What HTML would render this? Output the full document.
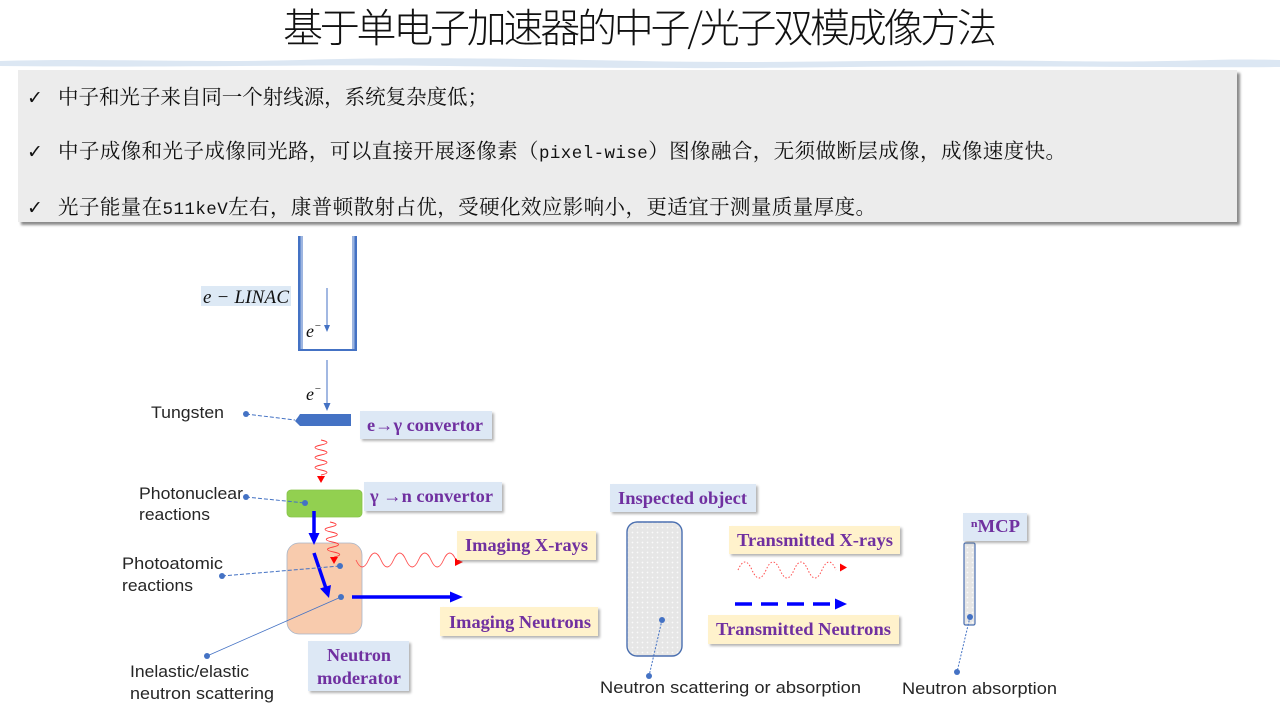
<!DOCTYPE html>
<html><head><meta charset="utf-8"><style>
html,body{margin:0;padding:0;background:#fff;width:1280px;height:720px;overflow:hidden}
svg{display:block}
.bul{font-family:"Liberation Mono","Noto Serif CJK SC","Noto Serif CJK JP","Noto Serif CJK TC","Liberation Serif",serif;font-size:20.5px;fill:#111}
.lab{font-family:"Liberation Serif","DejaVu Serif",serif;font-weight:bold;font-size:18px;fill:#7030a0}
.san{font-family:"Liberation Sans",sans-serif;font-size:16.5px;fill:#262626}
</style></head><body>
<svg width="1280" height="720" viewBox="0 0 1280 720" xmlns="http://www.w3.org/2000/svg">
<defs>
<pattern id="dots" width="5" height="5" patternUnits="userSpaceOnUse"><rect width="5" height="5" fill="#e6e6e6"/><circle cx="2.5" cy="2.5" r="0.9" fill="#fafafa"/></pattern>
<filter id="sh" x="-10%" y="-10%" width="130%" height="140%"><feGaussianBlur stdDeviation="1.3"/></filter>
</defs>

<!-- Title -->
<text x="283" y="42" style="font-family:'Noto Sans CJK SC',sans-serif;font-weight:300;font-size:40px" fill="#111" textLength="714" lengthAdjust="spacing">基于单电子加速器的中子/光子双模成像方法</text>

<!-- wavy band -->
<path d="M0 61 C100 58,200 63,300 60 S500 58,640 61 S900 59,1050 61 S1200 58,1280 60 L1280 67 C1150 68,1000 65,850 67 S600 68,450 66 S200 68,0 66 Z" fill="#dce7f3"/>

<!-- bullet box -->
<rect x="21" y="73" width="1219" height="152" fill="#8a8a8a" filter="url(#sh)"/>
<rect x="18" y="70" width="1219" height="152" fill="#ececec"/>
<g style="font-family:'DejaVu Sans',sans-serif;font-size:19px" fill="#111">
<text x="27" y="104">✓</text><text x="27" y="158">✓</text><text x="27" y="214">✓</text>
</g>
<text class="bul" x="58" y="104" textLength="430" lengthAdjust="spacing">中子和光子来自同一个射线源，系统复杂度低；</text>
<text class="bul" x="58" y="158" textLength="1008" lengthAdjust="spacing">中子成像和光子成像同光路，可以直接开展逐像素（<tspan style="font-size:17.5px">pixel-wise</tspan>）图像融合，无须做断层成像，成像速度快。</text>
<text class="bul" x="58" y="214" textLength="818" lengthAdjust="spacing">光子能量在<tspan style="font-size:17.5px">511keV</tspan>左右，康普顿散射占优，受硬化效应影响小，更适宜于测量质量厚度。</text>

<!-- LINAC -->
<rect x="201" y="286" width="90" height="20" fill="#dde9f5"/>
<text x="203" y="303" style="font-family:'Liberation Serif',serif;font-style:italic;font-size:19px" fill="#111" textLength="86" lengthAdjust="spacing">e − LINAC</text>
<rect x="298" y="236" width="2.5" height="115" fill="#4472c4"/>
<rect x="300.5" y="236" width="2.5" height="113" fill="#9db5e0"/>
<rect x="354.5" y="236" width="2.5" height="115" fill="#4472c4"/>
<rect x="352" y="236" width="2.5" height="113" fill="#9db5e0"/>
<rect x="298" y="349" width="59" height="2" fill="#4472c4"/>
<line x1="327" y1="288" x2="327" y2="326" stroke="#4472c4" stroke-width="1"/>
<polygon points="324,325 330,325 327,332" fill="#4472c4"/>
<text x="306" y="337" style="font-family:'Liberation Serif',serif;font-style:italic;font-size:18px" fill="#111">e<tspan style="font-size:11px" dy="-8">−</tspan></text>
<line x1="327" y1="360" x2="327" y2="404" stroke="#4472c4" stroke-width="1"/>
<polygon points="323.5,403 330.5,403 327,411" fill="#4472c4"/>
<text x="306" y="400" style="font-family:'Liberation Serif',serif;font-style:italic;font-size:18px" fill="#111">e<tspan style="font-size:11px" dy="-8">−</tspan></text>

<!-- Tungsten -->
<path d="M300 414 L351 414 L351 426 L300 426 L295 421 L298 417 Z" fill="#4472c4"/>
<line x1="246" y1="414" x2="295" y2="420" stroke="#4472c4" stroke-width="1" stroke-dasharray="4 2"/>
<circle cx="246" cy="414" r="3" fill="#4472c4"/>

<!-- red wave down -->
<path d="M321 440 q12 2.5 0 5 t0 5 t0 5 t0 5 t0 5 t0 5 t0 5" fill="none" stroke="#ff3b3b" stroke-width="0.9"/>
<polygon points="317,476 325,476 321,483" fill="#ff0000"/>

<!-- green box -->
<rect x="287" y="490" width="75" height="27" rx="4" fill="#92d050" stroke="#86c34a" stroke-width="0.8"/>
<line x1="246" y1="497" x2="305" y2="503" stroke="#4472c4" stroke-width="1" stroke-dasharray="4 2"/>
<circle cx="246" cy="497" r="3" fill="#4472c4"/>
<circle cx="305" cy="503" r="3" fill="#4472c4"/>

<!-- peach moderator -->
<rect x="287" y="543" width="75" height="91" rx="12" fill="#f8cbad" stroke="#a8b5c8" stroke-width="0.8"/>
<line x1="314" y1="511" x2="314" y2="534" stroke="#0000ff" stroke-width="3.5"/>
<polygon points="308.5,533 319.5,533 314,545" fill="#0000ff"/>
<line x1="314" y1="553" x2="325.5" y2="587" stroke="#0000ff" stroke-width="3.5"/>
<polygon points="329,598 331,585 320,588.5" fill="#0000ff"/>
<path d="M330 522 q12 2.5 0.6 5 t0.6 5 t0.6 5 t0.6 5 t0.6 5 t0.6 5 t0.6 5" fill="none" stroke="#ff3b3b" stroke-width="0.9"/>
<polygon points="330,557 338,557 334,564" fill="#ff0000"/>
<path d="M356 560 q6.25 14 12.5 0 t12.5 0 t12.5 0 t12.5 0 t12.5 0 t12.5 0 t12.5 0 t12.5 0" fill="none" stroke="#ff5050" stroke-width="0.9"/>
<polygon points="455,558 455,566 463,562" fill="#ff0000"/>
<line x1="352" y1="597" x2="451" y2="597" stroke="#0000ff" stroke-width="3.5"/>
<polygon points="450,591.5 450,602.5 463,597" fill="#0000ff"/>
<line x1="222" y1="576" x2="340" y2="566" stroke="#4472c4" stroke-width="1" stroke-dasharray="4 2"/>
<circle cx="222" cy="576" r="3" fill="#4472c4"/>
<circle cx="340" cy="566" r="3" fill="#4472c4"/>
<line x1="207" y1="656" x2="341" y2="597" stroke="#4472c4" stroke-width="0.8"/>
<circle cx="207" cy="656" r="3" fill="#4472c4"/>
<circle cx="341" cy="597" r="3" fill="#4472c4"/>

<!-- Object -->
<rect x="627" y="522" width="55" height="134" rx="10" fill="url(#dots)" stroke="#4a6fb0" stroke-width="1.4"/>
<line x1="662" y1="620" x2="649" y2="676" stroke="#4472c4" stroke-width="1" stroke-dasharray="2 1.5"/>
<circle cx="662" cy="620" r="3" fill="#4472c4"/>
<circle cx="649" cy="676" r="3" fill="#4472c4"/>

<!-- Transmitted waves -->
<path d="M738 570 q7 -16 14 0 t14 0 t14 0 t14 0 t14 0 t14 0 t14 0" fill="none" stroke="#ff5050" stroke-width="1" stroke-dasharray="1.5 1.8"/>
<polygon points="840,563.5 840,571.5 847,567.5" fill="#ff0000"/>
<line x1="735" y1="604" x2="836" y2="604" stroke="#0000ff" stroke-width="3.5" stroke-dasharray="17 9"/>
<polygon points="835,598.5 835,609.5 847,604" fill="#0000ff"/>

<!-- MCP -->
<rect x="964" y="543" width="11" height="82" rx="1.5" fill="url(#dots)" stroke="#4a6fb0" stroke-width="1.2"/>
<line x1="970" y1="617" x2="957" y2="672" stroke="#4472c4" stroke-width="1" stroke-dasharray="2 1.5"/>
<circle cx="970" cy="617" r="3" fill="#4472c4"/>
<circle cx="957" cy="672" r="3" fill="#4472c4"/>

<!-- label boxes -->
<g fill="#7f7f7f" filter="url(#sh)" opacity="0.6">
<rect x="362" y="413" width="132" height="28"/>
<rect x="366" y="484" width="138" height="29"/>
<rect x="459" y="533" width="139" height="29"/>
<rect x="442" y="609" width="158" height="29"/>
<rect x="310" y="643" width="101" height="50"/>
<rect x="612" y="486" width="146" height="28"/>
<rect x="731" y="528" width="171" height="28"/>
<rect x="710" y="617" width="191" height="29"/>
<rect x="965" y="515" width="64" height="28"/>
</g>
<rect x="360" y="411" width="132" height="28" fill="#dde8f5"/>
<rect x="364" y="482" width="138" height="29" fill="#dde8f5"/>
<rect x="457" y="531" width="139" height="29" fill="#fff2cc"/>
<rect x="440" y="607" width="158" height="29" fill="#fff2cc"/>
<rect x="308" y="641" width="101" height="50" fill="#dde8f5"/>
<rect x="610" y="484" width="146" height="28" fill="#dde8f5"/>
<rect x="729" y="526" width="171" height="28" fill="#fff2cc"/>
<rect x="708" y="615" width="191" height="29" fill="#fff2cc"/>
<rect x="963" y="513" width="64" height="28" fill="#dde8f5"/>

<text class="lab" x="367" y="431" textLength="116" lengthAdjust="spacingAndGlyphs">e→γ convertor</text>
<text class="lab" x="370" y="502" textLength="123" lengthAdjust="spacingAndGlyphs">γ →n convertor</text>
<text class="lab" x="465" y="551" textLength="123" lengthAdjust="spacingAndGlyphs">Imaging X-rays</text>
<text class="lab" x="449" y="628" textLength="142" lengthAdjust="spacingAndGlyphs">Imaging Neutrons</text>
<text class="lab" x="327" y="661" textLength="64" lengthAdjust="spacingAndGlyphs">Neutron</text>
<text class="lab" x="317" y="684" textLength="84" lengthAdjust="spacingAndGlyphs">moderator</text>
<text class="lab" x="618" y="504" textLength="129" lengthAdjust="spacingAndGlyphs">Inspected object</text>
<text class="lab" x="737" y="546" textLength="156" lengthAdjust="spacingAndGlyphs">Transmitted X-rays</text>
<text class="lab" x="716" y="635" textLength="175" lengthAdjust="spacingAndGlyphs">Transmitted Neutrons</text>
<text class="lab" x="971" y="532" textLength="49" lengthAdjust="spacingAndGlyphs">ⁿMCP</text>

<!-- sans labels -->
<text class="san" x="151" y="418" textLength="73" lengthAdjust="spacingAndGlyphs">Tungsten</text>
<text class="san" x="139" y="499" textLength="104" lengthAdjust="spacingAndGlyphs">Photonuclear</text>
<text class="san" x="139" y="520" textLength="71" lengthAdjust="spacingAndGlyphs">reactions</text>
<text class="san" x="122" y="569" textLength="101" lengthAdjust="spacingAndGlyphs">Photoatomic</text>
<text class="san" x="122" y="591" textLength="71" lengthAdjust="spacingAndGlyphs">reactions</text>
<text class="san" x="130" y="677" textLength="119" lengthAdjust="spacingAndGlyphs">Inelastic/elastic</text>
<text class="san" x="130" y="699" textLength="144" lengthAdjust="spacingAndGlyphs">neutron scattering</text>
<text class="san" x="600" y="693" textLength="261" lengthAdjust="spacingAndGlyphs">Neutron scattering or absorption</text>
<text class="san" x="902" y="694" textLength="155" lengthAdjust="spacingAndGlyphs">Neutron absorption</text>
</svg>
</body></html>
